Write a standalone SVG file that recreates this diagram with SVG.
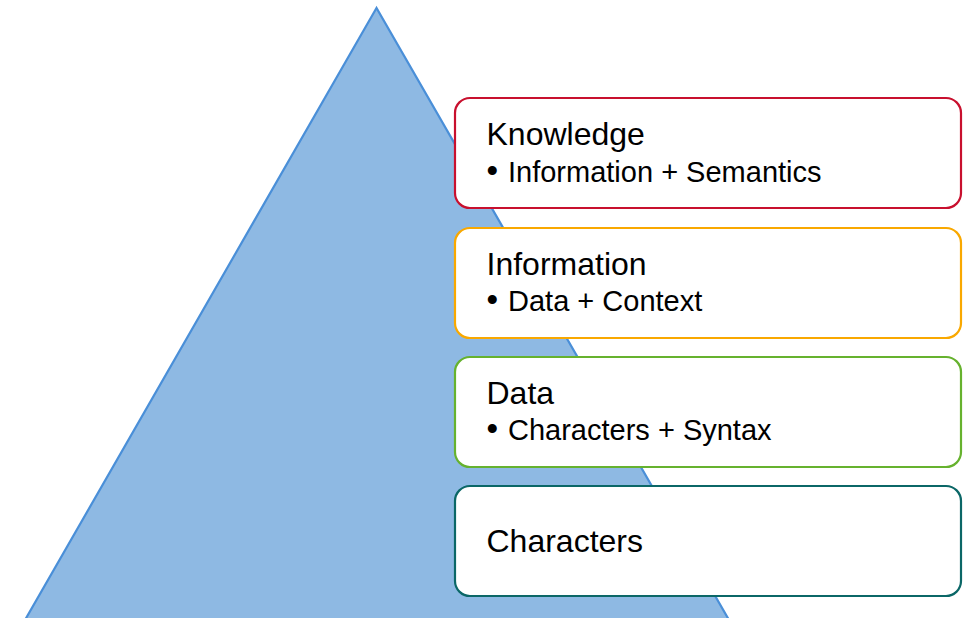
<svg xmlns="http://www.w3.org/2000/svg" width="974" height="618" viewBox="0 0 974 618">
<style>
.box{fill:#ffffff;stroke-width:2.2}
.t1{font-family:"Liberation Sans",Arial,sans-serif;font-size:32px;fill:#000}
.t2{font-family:"Liberation Sans",Arial,sans-serif;font-size:29px;fill:#000}
.b{font-size:33px}
</style>
<rect x="0" y="0" width="974" height="618" fill="#ffffff"/>
<g id="pyramid">
<polygon points="376.5,8 25,620 729,620" fill="#8EB9E3" stroke="#4A8FD8" stroke-width="2.2" stroke-linejoin="miter"/>
</g>
<g id="connectors"></g>
<g id="knowledge">
<rect class="box" x="455" y="98" width="506" height="110" rx="15" stroke="#C8102E"/>
<text class="t1" x="486.5" y="145">Knowledge</text>
<text class="t2" x="486.5" y="182"><tspan class="b">•</tspan><tspan x="508">Information + Semantics</tspan></text>
</g>
<g id="information">
<rect class="box" x="455" y="228" width="506" height="110" rx="15" stroke="#F9A800"/>
<text class="t1" x="486.5" y="275">Information</text>
<text class="t2" x="486.5" y="311"><tspan class="b">•</tspan><tspan x="508">Data + Context</tspan></text>
</g>
<g id="data">
<rect class="box" x="455" y="357" width="506" height="110" rx="15" stroke="#66B22E"/>
<text class="t1" x="486.5" y="404">Data</text>
<text class="t2" x="486.5" y="440"><tspan class="b">•</tspan><tspan x="508">Characters + Syntax</tspan></text>
</g>
<g id="characters">
<rect class="box" x="455" y="486" width="506" height="110" rx="15" stroke="#0B6767"/>
<text class="t1" x="486.5" y="552">Characters</text>
</g>
</svg>
